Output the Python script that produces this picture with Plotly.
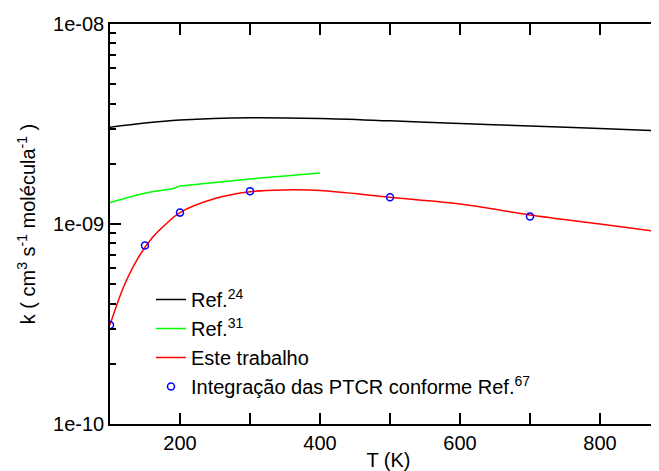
import plotly.graph_objects as go

# Ref. 24
T_ref24 = [100, 150, 200, 300, 400, 500, 600, 700, 800, 900]
k_ref24 = [3.05e-9, 3.2e-9, 3.31e-9, 3.4e-9, 3.37e-9, 3.28e-9, 3.18e-9, 3.09e-9, 3.0e-9, 2.91e-9]

# Ref. 31
T_ref31 = [100, 120, 140, 160, 180, 190, 200, 250, 300, 350, 400]
k_ref31 = [1.28e-9, 1.34e-9, 1.40e-9, 1.45e-9, 1.48e-9, 1.50e-9, 1.55e-9, 1.62e-9, 1.68e-9, 1.74e-9, 1.80e-9]

# Este trabalho
T_this = [100, 120, 140, 160, 180, 200, 250, 300, 350, 400, 500, 600, 700, 800, 900]
k_this = [3.13e-10, 4.9e-10, 6.76e-10, 8.51e-10, 1.0e-9, 1.14e-9, 1.34e-9, 1.45e-9, 1.48e-9,
          1.47e-9, 1.36e-9, 1.26e-9, 1.11e-9, 1.0e-9, 9.0e-10]

# Integração das PTCR
T_ptcr = [100, 150, 200, 300, 500, 700]
k_ptcr = [3.13e-10, 7.8e-10, 1.14e-9, 1.46e-9, 1.36e-9, 1.09e-9]

y_tickvals = [1e-10, 1e-9, 1e-8]
y_ticktext = ["1e-10", "1e-09", "1e-08"]
y_minor = [m * 10.0 ** e for e in (-10, -9) for m in range(2, 10)]

FONT = "Liberation Sans"

fig = go.Figure()
fig.add_trace(go.Scatter(x=T_ref24, y=k_ref24, mode="lines", name="Ref.<sup>24</sup>",
                         line=dict(color="black", width=1.5, shape="spline")))
fig.add_trace(go.Scatter(x=T_ref31, y=k_ref31, mode="lines", name="Ref.<sup>31</sup>",
                         line=dict(color="#00ff00", width=1.5)))
fig.add_trace(go.Scatter(x=T_this, y=k_this, mode="lines", name="Este trabalho",
                         line=dict(color="#ff0000", width=1.5, shape="spline")))
fig.add_trace(go.Scatter(x=T_ptcr, y=k_ptcr, mode="markers",
                         name="Integração das PTCR conforme Ref.<sup>67</sup>",
                         marker=dict(symbol="circle-open", color="#0000ff", size=7,
                                     line=dict(width=1.5, color="#0000ff"))))

# page body has an 8px margin: figure coordinates are offset by (-8, -8)
fig.update_layout(
    width=659, height=471,
    margin=dict(l=102, r=0, t=16, b=55),
    paper_bgcolor="white", plot_bgcolor="white",
    font=dict(family=FONT, size=20, color="black"),
    showlegend=True,
    legend=dict(x=(151 - 110) / 557, y=0.36, xanchor="left", yanchor="top",
                bgcolor="rgba(0,0,0,0)", font=dict(family=FONT, size=20),
                tracegroupgap=0),
    xaxis=dict(range=[100, 100 + 557 / 0.7], showgrid=False, zeroline=False, automargin=False,
               showline=True, linecolor="black", linewidth=1.5, mirror="ticks",
               ticks="inside", ticklen=11, tickwidth=1.5, tickcolor="black",
               tick0=0, dtick=200,
               minor=dict(dtick=100, ticks="inside", ticklen=11, tickwidth=1.5, tickcolor="black"),
               tickfont=dict(family=FONT, size=20),
               title=dict(text="T (K)", font=dict(family=FONT, size=20), standoff=0)),
    yaxis=dict(type="log", range=[-10, -8], showgrid=False, zeroline=False, automargin=False,
               showline=True, linecolor="black", linewidth=1.5, mirror="ticks",
               ticks="inside", ticklen=11, tickwidth=1.5, tickcolor="black",
               tickvals=y_tickvals, ticktext=y_ticktext,
               minor=dict(tickvals=y_minor, ticks="inside", ticklen=6, tickwidth=1.5, tickcolor="black"),
               tickfont=dict(family=FONT, size=20),
               title=dict(text="k ( cm<sup>3</sup> s<sup>-1</sup> molécula<sup>-1</sup> )",
                          font=dict(family=FONT, size=20), standoff=12)),
)

fig.write_html("out.html")
